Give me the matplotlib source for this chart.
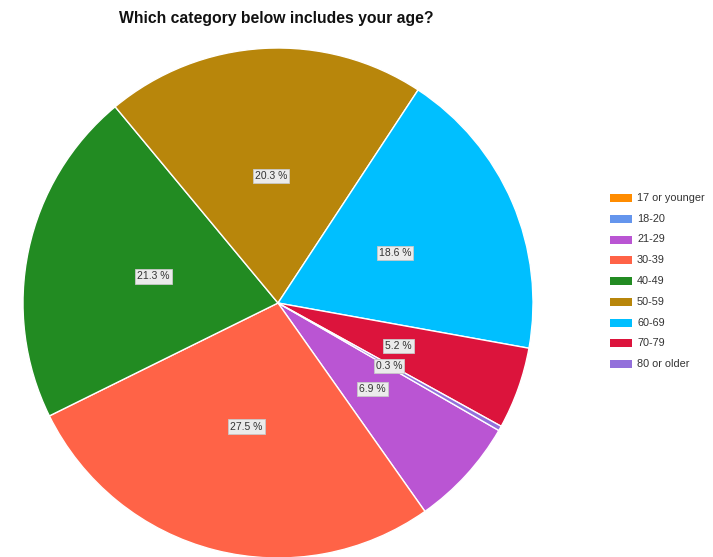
import matplotlib
matplotlib.use("Agg")
import matplotlib.pyplot as plt
from matplotlib.patches import Rectangle
import numpy as np

plt.rcParams['font.family'] = ['Liberation Sans', 'DejaVu Sans']

title = "Which category below includes your age?"
categories = ["17 or younger", "18-20", "21-29", "30-39", "40-49",
              "50-59", "60-69", "70-79", "80 or older"]
percents = [0.0, 0.0, 6.9, 27.5, 21.3, 20.3, 18.6, 5.2, 0.3]
colors = ["#FF8C00", "#6495ED", "#BA55D3", "#FF6347", "#228B22",
          "#B8860B", "#00BFFF", "#DC143C", "#9370DB"]

W, H = 713, 557
fig = plt.figure(figsize=(W / 100, H / 100), dpi=100)
fig.patch.set_facecolor("white")

# square axes holding the unit pie
cx, cy, r = 278, 303, 255
ax = fig.add_axes([(cx - r) / W, (H - cy - r) / H, 2 * r / W, 2 * r / H])
wedges, _ = ax.pie(percents, colors=colors, startangle=-30, counterclock=False,
                   radius=1.0, wedgeprops=dict(edgecolor="white", linewidth=1.0))
ax.set_xlim(-1, 1)
ax.set_ylim(-1, 1)
ax.set_aspect("equal")
ax.axis("off")

# percentage labels at half radius
for w, p in zip(wedges, percents):
    if p <= 0:
        continue
    ang = np.deg2rad((w.theta1 + w.theta2) / 2)
    x, y = 0.5 * np.cos(ang), 0.5 * np.sin(ang)
    ax.text(x, y, f"{p:.1f} %", ha="center", va="center", fontsize=7.5,
            color="#333333",
            bbox=dict(boxstyle="square,pad=0.2", facecolor="#ebebeb",
                      edgecolor="#c8c8c8", linewidth=0.6))

fig.text(276 / W, 1 - 18 / H, title, ha="center", va="center",
         fontsize=11.3, fontweight="bold", color="#111111")

# legend column
lx, ly0, dy = 610, 198, 20.75
sw, sh = 22, 8
for i, (lab, col) in enumerate(zip(categories, colors)):
    yc = ly0 + i * dy
    fig.patches.append(Rectangle((lx / W, 1 - (yc + sh / 2) / H), sw / W, sh / H,
                                 transform=fig.transFigure, facecolor=col,
                                 edgecolor="none"))
    fig.text((lx + sw + 5) / W, 1 - yc / H, lab, ha="left", va="center",
             fontsize=7.8, color="#333333")

fig.savefig("out.png", dpi=100, facecolor="white")
